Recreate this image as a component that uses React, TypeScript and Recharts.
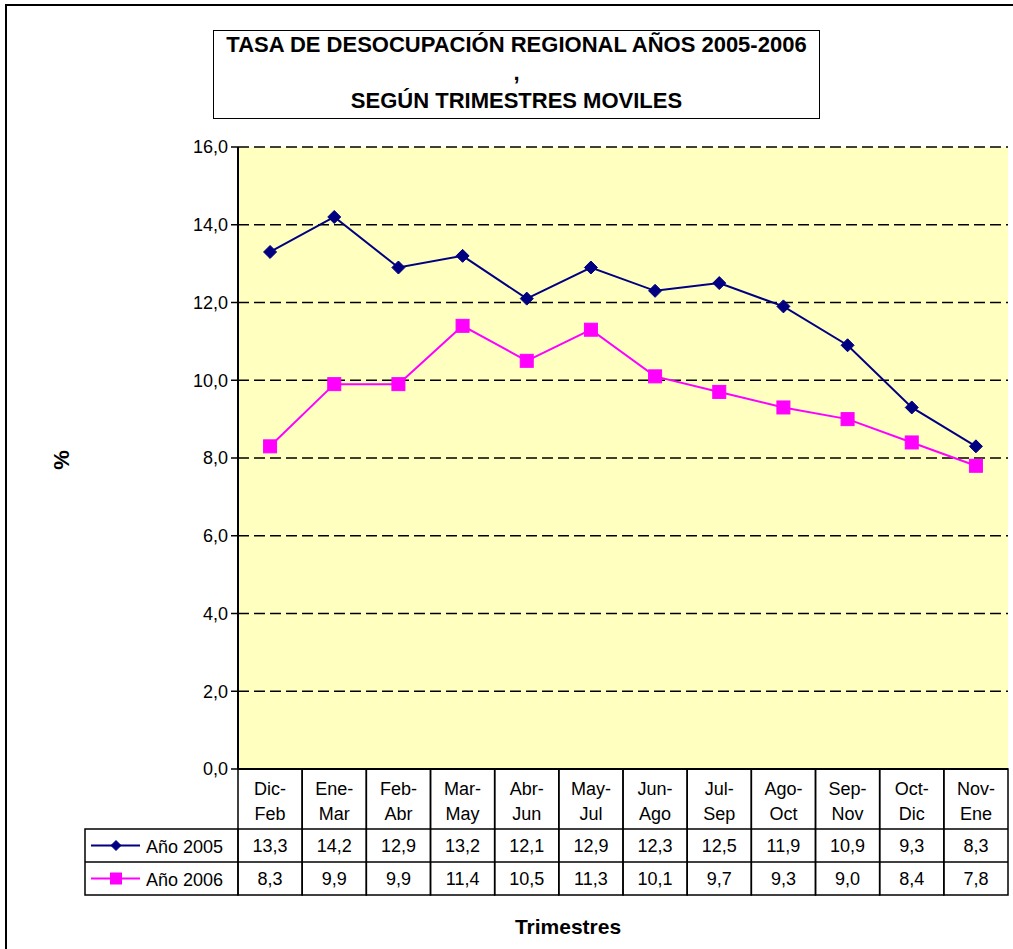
import React from 'react';
import { LineChart, Line, XAxis, YAxis, CartesianGrid } from 'recharts';

const categories = ['Dic-Feb', 'Ene-Mar', 'Feb-Abr', 'Mar-May', 'Abr-Jun', 'May-Jul', 'Jun-Ago', 'Jul-Sep', 'Ago-Oct', 'Sep-Nov', 'Oct-Dic', 'Nov-Ene'];
const year2005 = [13.3, 14.2, 12.9, 13.2, 12.1, 12.9, 12.3, 12.5, 11.9, 10.9, 9.3, 8.3];
const year2006 = [8.3, 9.9, 9.9, 11.4, 10.5, 11.3, 10.1, 9.7, 9.3, 9.0, 8.4, 7.8];
const yTicks = [0, 2, 4, 6, 8, 10, 12, 14, 16];
const seriesNames = ['Año 2005', 'Año 2006'];

const data = categories.map((cat, i) => ({ cat, a2005: year2005[i], a2006: year2006[i] }));

const FONT = '"Liberation Sans", Arial, sans-serif';
const NAVY = '#000080';
const MAGENTA = '#FF00FF';

const W = 1013;
const H = 949;
const PLOT_LEFT = 238;
const PLOT_RIGHT = 1008;
const PLOT_TOP = 147;
const PLOT_BOTTOM = 769;
const CELL_W = (PLOT_RIGHT - PLOT_LEFT) / categories.length;
const LABEL_ROW_H = 60;
const ROW_H = 33;
const LEGEND_W = PLOT_LEFT - 85;
const Y_AXIS_W = 60;
const X_AXIS_H = 130;

const fmt = (v: number) => v.toFixed(1).replace('.', ',');

const Diamond = ({ cx, cy, r, color }: any) => (
    <polygon points={`${cx},${cy - r} ${cx + r},${cy} ${cx},${cy + r} ${cx - r},${cy}`} fill={color} stroke={color} />
);

const Square = ({ cx, cy, s, color }: any) => (
    <rect x={cx - s / 2} y={cy - s / 2} width={s} height={s} fill={color} stroke={color} />
);

// category labels + data table drawn as the x axis ticks
const TableTick = (props: any) => {
    const { x, y, payload, index } = props;
    const left = x - CELL_W / 2;
    const parts = String(payload.value).split('-');
    const rows = [year2005, year2006];
    return (
        <g fontFamily={FONT} fontSize={18} fill="#000">
            <rect x={left} y={y} width={CELL_W} height={LABEL_ROW_H + ROW_H * 2} fill="none" stroke="#000" strokeWidth={1.5} />
            <text x={x} y={y + 26} textAnchor="middle">{parts[0] + '-'}</text>
            <text x={x} y={y + 51} textAnchor="middle">{parts[1]}</text>
            {rows.map((r, ri) => (
                <g key={ri}>
                    <line x1={left} x2={left + CELL_W} y1={y + LABEL_ROW_H + ROW_H * ri} y2={y + LABEL_ROW_H + ROW_H * ri} stroke="#000" strokeWidth={1.5} />
                    <text x={x} y={y + LABEL_ROW_H + ROW_H * ri + 23} textAnchor="middle">{fmt(r[index])}</text>
                </g>
            ))}
            {index === 0 && (
                <g>
                    <rect x={left - LEGEND_W} y={y + LABEL_ROW_H} width={LEGEND_W} height={ROW_H * 2} fill="none" stroke="#000" strokeWidth={1.5} />
                    <line x1={left - LEGEND_W} x2={left} y1={y + LABEL_ROW_H + ROW_H} y2={y + LABEL_ROW_H + ROW_H} stroke="#000" strokeWidth={1.5} />
                    {seriesNames.map((name, si) => {
                        const cy = y + LABEL_ROW_H + ROW_H * si + ROW_H / 2;
                        const color = si === 0 ? NAVY : MAGENTA;
                        const lx = left - LEGEND_W + 6;
                        return (
                            <g key={name}>
                                <line x1={lx} x2={lx + 49} y1={cy} y2={cy} stroke={color} strokeWidth={2} />
                                {si === 0 ? <Diamond cx={lx + 25} cy={cy} r={5} color={color} /> : <Square cx={lx + 25} cy={cy} s={11} color={color} />}
                                <text x={lx + 55} y={cy + 7}>{name}</text>
                            </g>
                        );
                    })}
                </g>
            )}
        </g>
    );
};

export default function App() {
    return (
        <div style={{ position: 'absolute', left: 0, top: 0, width: W, height: H, background: '#fff', overflow: 'hidden', fontFamily: FONT }}>
            <div style={{ position: 'absolute', left: 5, top: 4, width: W + 20, height: H + 20, borderLeft: '2px solid #000', borderTop: '2px solid #000' }} />
            <LineChart
                width={W}
                height={H}
                data={data}
                margin={{ top: PLOT_TOP, right: W - PLOT_RIGHT, left: PLOT_LEFT - Y_AXIS_W, bottom: H - PLOT_BOTTOM - X_AXIS_H }}
                style={{ position: 'absolute', left: 0, top: 0 }}
            >
                <CartesianGrid vertical={false} stroke="#000" strokeWidth={1.5} strokeDasharray="11 5" fill="#FFFFC0" fillOpacity={1} />
                <XAxis
                    dataKey="cat"
                    padding={{ left: CELL_W / 2, right: CELL_W / 2 }}
                    height={X_AXIS_H}
                    interval={0}
                    tickSize={0}
                    tickMargin={0}
                    tickLine={false}
                    axisLine={{ stroke: '#000', strokeWidth: 2 }}
                    tick={<TableTick />}
                />
                <XAxis xAxisId="top" dataKey="cat" orientation="top" height={0} tick={false} tickLine={false} axisLine={{ stroke: '#808080', strokeWidth: 2 }} padding={{ left: CELL_W / 2, right: CELL_W / 2 }} />
                <YAxis
                    domain={[0, 16]}
                    ticks={yTicks}
                    width={Y_AXIS_W}
                    tickFormatter={fmt}
                    tick={{ fill: '#000', fontSize: 18, fontFamily: FONT }}
                    tickSize={7}
                    tickMargin={3}
                    tickLine={{ stroke: '#000', strokeWidth: 1.5 }}
                    axisLine={{ stroke: '#000', strokeWidth: 2 }}
                    interval={0}
                />
                <YAxis yAxisId="right" orientation="right" width={0} domain={[0, 16]} tick={false} tickLine={false} axisLine={{ stroke: '#808080', strokeWidth: 2 }} />
                <Line
                    dataKey="a2005"
                    name="Año 2005"
                    stroke={NAVY}
                    strokeWidth={2}
                    isAnimationActive={false}
                    dot={(p: any) => <Diamond key={p.index} cx={p.cx} cy={p.cy} r={6.5} color={NAVY} />}
                />
                <Line
                    dataKey="a2006"
                    name="Año 2006"
                    stroke={MAGENTA}
                    strokeWidth={2}
                    isAnimationActive={false}
                    dot={(p: any) => <Square key={p.index} cx={p.cx} cy={p.cy} s={13} color={MAGENTA} />}
                />
            </LineChart>
            <div style={{ position: 'absolute', left: 213, top: 30, width: 607, height: 89, border: '1.5px solid #000', boxSizing: 'border-box', background: '#fff', textAlign: 'center', fontWeight: 'bold', fontSize: 22, lineHeight: '28px', paddingTop: 0 }}>
                <div>TASA DE DESOCUPACIÓN REGIONAL AÑOS 2005-2006</div>
                <div>,</div>
                <div>SEGÚN TRIMESTRES MOVILES</div>
            </div>
            <div style={{ position: 'absolute', left: 62, top: 460, transform: 'translate(-50%, -50%) rotate(-90deg)', fontWeight: 'bold', fontSize: 22 }}>%</div>
            <div style={{ position: 'absolute', left: 568, top: 927, transform: 'translate(-50%, -50%)', fontWeight: 'bold', fontSize: 21 }}>Trimestres</div>
        </div>
    );
}
